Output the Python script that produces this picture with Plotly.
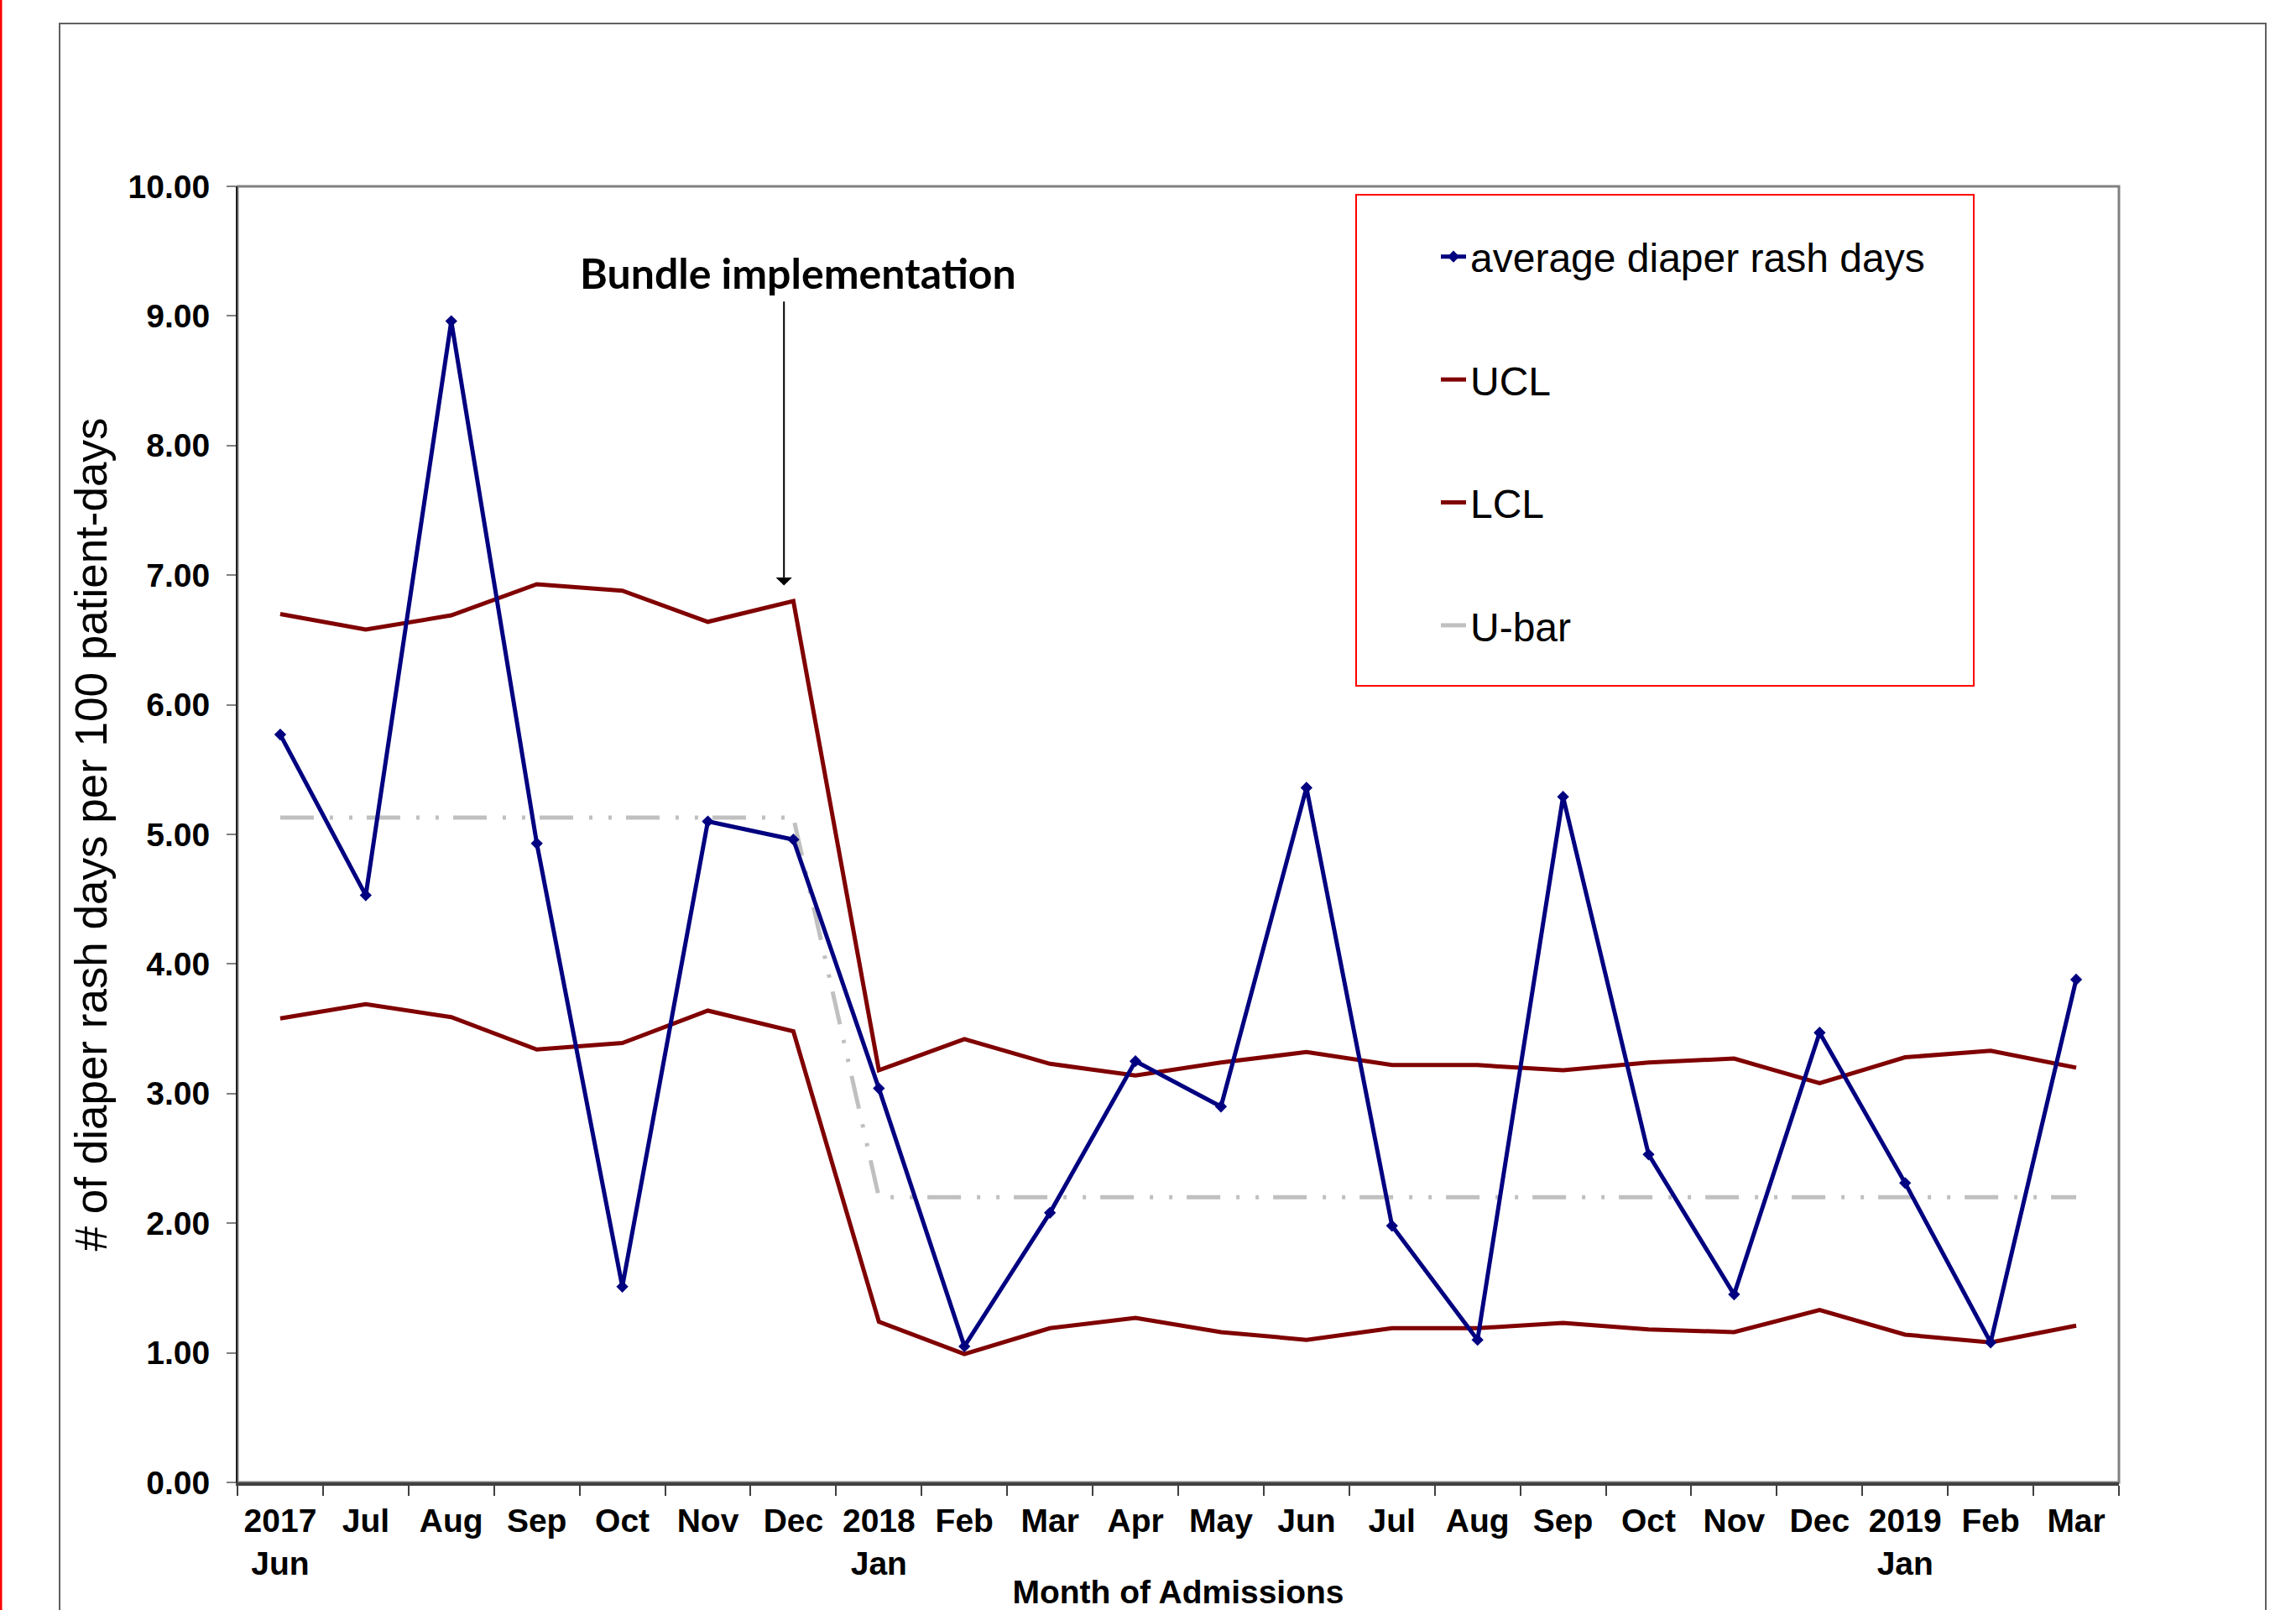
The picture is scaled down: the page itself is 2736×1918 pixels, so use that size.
import plotly.graph_objects as go

# ---------------- data ----------------
months = ["Jun 2017", "Jul 2017", "Aug 2017", "Sep 2017", "Oct 2017", "Nov 2017", "Dec 2017",
          "Jan 2018", "Feb 2018", "Mar 2018", "Apr 2018", "May 2018", "Jun 2018", "Jul 2018",
          "Aug 2018", "Sep 2018", "Oct 2018", "Nov 2018", "Dec 2018", "Jan 2019", "Feb 2019", "Mar 2019"]
tick_labels = ["2017<br>Jun", "Jul", "Aug", "Sep", "Oct", "Nov", "Dec",
               "2018<br>Jan", "Feb", "Mar", "Apr", "May", "Jun", "Jul",
               "Aug", "Sep", "Oct", "Nov", "Dec", "2019<br>Jan", "Feb", "Mar"]
avg_rash_days = [5.77, 4.53, 8.96, 4.93, 1.51, 5.10, 4.96,
                 3.04, 1.05, 2.08, 3.25, 2.90, 5.36, 1.98,
                 1.10, 5.29, 2.53, 1.45, 3.47, 2.31, 1.08, 3.88]
ucl = [6.70, 6.58, 6.69, 6.93, 6.88, 6.64, 6.80,
       3.18, 3.42, 3.23, 3.14, 3.24, 3.32, 3.22,
       3.22, 3.18, 3.24, 3.27, 3.08, 3.28, 3.33, 3.20]
lcl = [3.58, 3.69, 3.59, 3.34, 3.39, 3.64, 3.48,
       1.24, 0.99, 1.19, 1.27, 1.16, 1.10, 1.19,
       1.19, 1.23, 1.18, 1.16, 1.33, 1.14, 1.08, 1.21]
u_bar = [5.13] * 7 + [2.20] * 15

NAVY = "#000080"
MAROON = "#800000"
LGRAY = "#C0C0C0"

# ---------------- layout constants (pixels) ----------------
W, H = 2736, 1918
L, R, T, B = 283, 2525, 222, 1766


def px_x(p):
    return (p - L) / (R - L)


def px_y(p):
    return (B - p) / (B - T)


fig = go.Figure()

fig.add_trace(go.Scatter(x=months, y=u_bar, name="U-bar", mode="lines", legendgroup="d", legendrank=4,
                         line=dict(color=LGRAY, width=5, dash="40px,19px,4px,19px,4px,17px")))
fig.add_trace(go.Scatter(x=months, y=lcl, name="LCL", mode="lines", legendgroup="c", legendrank=3,
                         line=dict(color=MAROON, width=5)))
fig.add_trace(go.Scatter(x=months, y=ucl, name="UCL", mode="lines", legendgroup="b", legendrank=2,
                         line=dict(color=MAROON, width=5)))
fig.add_trace(go.Scatter(x=months, y=avg_rash_days, name="average diaper rash days",
                         mode="lines+markers", legendgroup="a", legendrank=1,
                         line=dict(color=NAVY, width=5),
                         marker=dict(symbol="diamond", size=11, color=NAVY)))

tick_font = dict(family="Liberation Sans, Arial", size=39, color="black", weight="bold")

fig.update_layout(
    width=W, height=H, autosize=False,
    margin=dict(l=L, r=W - R, t=T, b=H - B, pad=0, autoexpand=False),
    paper_bgcolor="white", plot_bgcolor="white",
    font=dict(family="Liberation Sans, Arial", color="black"),
    showlegend=True,
    legend=dict(
        x=px_x(1712), y=px_y(268), xanchor="left", yanchor="top",
        bgcolor="rgba(0,0,0,0)", borderwidth=0,
        font=dict(family="Liberation Sans, Arial", size=48, color="black"),
        traceorder="grouped", tracegroupgap=81,
        itemwidth=30,
    ),
    xaxis=dict(
        type="category", categoryorder="array", categoryarray=months,
        tickmode="array", tickvals=months, ticktext=tick_labels,
        tickson="boundaries", ticks="outside", ticklen=12, tickwidth=2, tickcolor="#404040",
        showline=True, linecolor="#404040", linewidth=4,
        showgrid=False, zeroline=False, range=[-0.5, len(months) - 0.5],
        tickfont=tick_font, ticklabelstandoff=8,
        title=dict(text="Month of Admissions", standoff=16,
                   font=dict(family="Liberation Sans, Arial", size=39, color="black", weight="bold")),
    ),
    yaxis=dict(
        range=[0, 10], dtick=1, tick0=0, tickformat=".2f",
        ticks="outside", ticklen=11, tickwidth=2, tickcolor="#808080",
        showline=True, linecolor="#202020", linewidth=2,
        showgrid=False, zeroline=False,
        tickfont=tick_font, ticklabelstandoff=12,
        title=dict(text="# of diaper rash days per 100 patient-days", standoff=8,
                   font=dict(family="Liberation Sans, Arial", size=53, color="black")),
    ),
    shapes=[
        # plot-area frame (top / right edges)
        dict(type="rect", xref="paper", yref="paper", x0=0, x1=1, y0=0, y1=1,
             line=dict(color="#808080", width=3), layer="below"),
        # legend box
        dict(type="rect", xref="paper", yref="paper",
             x0=px_x(1616), x1=px_x(2352), y0=px_y(817), y1=px_y(232),
             line=dict(color="#FF0000", width=2), fillcolor="rgba(0,0,0,0)"),
        # outer chart frame
        dict(type="rect", xref="paper", yref="paper",
             x0=px_x(71), x1=px_x(2700), y0=px_y(2000), y1=px_y(28),
             line=dict(color="#606060", width=2), fillcolor="rgba(0,0,0,0)", layer="below"),
        # red page edge at far left
        dict(type="line", xref="paper", yref="paper",
             x0=px_x(1), x1=px_x(1), y0=px_y(2000), y1=px_y(-50),
             line=dict(color="#FF0000", width=3)),
    ],
    annotations=[
        dict(text="<b>Bundle implementation</b>", xref="paper", yref="paper",
             x=px_x(951), y=px_y(325), xanchor="center", yanchor="middle", showarrow=False,
             font=dict(family="Lato, Open Sans, sans-serif", size=50, color="black")),
        dict(text="", x=5.89, y=6.92, xref="x", yref="y", axref="x", ayref="y",
             ax=5.89, ay=9.12, showarrow=True, arrowhead=1, arrowsize=1.6, arrowwidth=2,
             arrowcolor="black"),
    ],
)

fig.write_html("out.html", config={"displayModeBar": False},
               post_script="document.body.style.margin='0';document.body.style.overflow='hidden';")
